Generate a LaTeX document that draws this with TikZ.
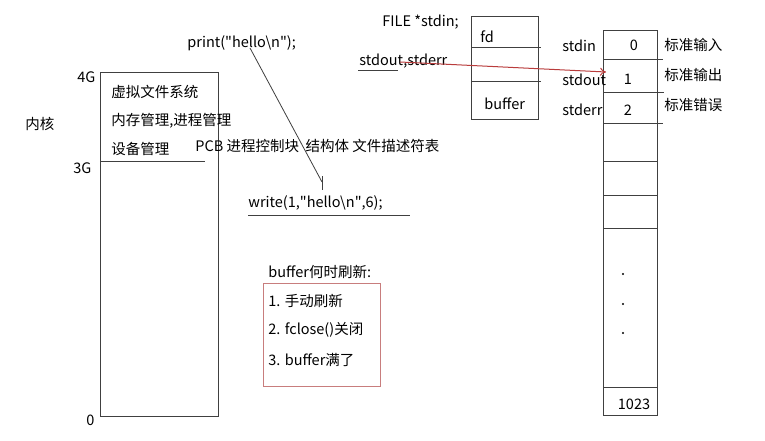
\documentclass[tikz,border=0pt]{standalone}
\usepackage{fontspec}
\setmainfont{Noto Sans CJK SC}
\usetikzlibrary{arrows,arrows.meta}
\definecolor{penred}{RGB}{185,60,60}
\definecolor{boxred}{RGB}{200,125,125}

\begin{document}
\begin{tikzpicture}[x=1pt,y=-1pt,line width=0.8pt,black!75]
		\tikzstyle{txt}=[anchor=west,inner sep=0pt,text=black,font=\fontsize{14.5}{16}\selectfont]
		\tikzstyle{cell}=[inner sep=0pt,text=black,font=\fontsize{14.5}{16}\selectfont]
		\useasboundingbox[fill=white] (0,0) rectangle (765,440);

		% process address space
		\draw (100,72) rectangle (218,416);
		\draw (100,161) -- (205,161);
		\node[txt] (4g) at (77,77) {4G};
		\node[txt] (3g) at (73,168) {3G};
		\node[txt] (0g) at (86,420) {0};
		\node[txt] (kern) at (25,124) {内核};
		\node[txt] (vfs) at (111,92) {虚拟文件系统};
		\node[txt] (mem) at (111,121) {内存管理,进程管理};
		\node[txt] (dev) at (111,149) {设备管理};
		\node[txt] (pcb) at (195,146) {PCB 进程控制块 \ 结构体 文件描述符表};

		% print -> write
		\node[txt] (print) at (187,43) {print(\textquotedbl hello\textbackslash n\textquotedbl);};
		\node[txt] (write) at (248,203) {write(1,\textquotedbl hello\textbackslash n\textquotedbl,6);};
		\draw (write.south west) ++(0,5) -- ++(162,0);
		\coordinate (pr) at (250,48);
		\coordinate (wr) at (322,182);
		\draw (pr) -- (wr);
		\draw (322,176) -- (322,190);

		% FILE struct
		\node[txt] (file) at (382,22) {FILE *stdin;};
		\node[txt] (std) at (359,61) {stdout,stderr};
		\draw (358,70) -- (398,70);
		\draw (471,16) rectangle (538,119);
		\draw (471,47) -- (541,47);
		\draw (471,81) -- (541,81);
		\node[txt] (fd) at (480,37) {fd};
		\node[txt] (buf) at (484,104) {buffer};

		% file descriptor table
		\draw (603,30) rectangle (657,415);
		\foreach \y/\e in {59/663,92/664,123/663,161/657,195/657,228/657,387/657}
			\draw (603,\y) -- (\e,\y);
		\node[cell] (c0) at (634,45) {0};
		\node[cell] (c1) at (628,79) {1};
		\node[cell] (c2) at (628,110) {2};
		\node[cell] (c3) at (634,404) {1023};
		\foreach \y in {274,304,333}
			\fill[black] (623,\y) circle (1.2pt);
		\node[txt] (in) at (562,46) {stdin};
		\node[txt] (out) at (562,80) {stdout};
		\node[txt] (err) at (562,110) {stderr};
		\node[txt] (l0) at (664,45) {标准输入};
		\node[txt] (l1) at (664,75) {标准输出};
		\node[txt] (l2) at (664,105) {标准错误};
		\coordinate (row1) at (606,72);
		\coordinate (fromstd) at (400,62);
		\draw[-{To[length=6pt,width=8pt]},penred,line width=1pt] (fromstd) -- (row1);

		% buffer flush
		\node[txt] (when) at (268,272) {buffer何时刷新:};
		\draw[boxred] (263,283) rectangle (380,386);
		\node[txt] (f1) at (268,301) {1. 手动刷新};
		\node[txt] (f2) at (268,330) {2. fclose()关闭};
		\node[txt] (f3) at (268,360) {3. buffer满了};
\end{tikzpicture}
\end{document}
